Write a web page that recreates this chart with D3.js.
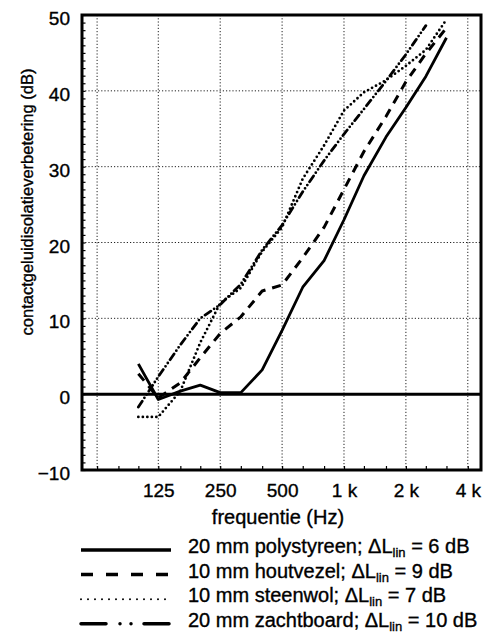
<!DOCTYPE html>
<meta charset="utf-8">
<style>
    body { margin: 0; background: #fff; }
    svg text { font-family: "Liberation Sans", Arial, sans-serif; fill: #000; stroke: #000; stroke-width: 0.35px; }
    .grid line { stroke: #222; stroke-width: 1; stroke-dasharray: 1.2, 2; }
</style>
<body>
<div id="chart"></div>
<script src="https://d3js.org/d3.v7.min.js"></script>
<script>
    // third-octave band centres (Hz)
    var freqs = [100, 125, 160, 200, 250, 315, 400, 500, 630, 800, 1000, 1250, 1600, 2000, 2500, 3150];

    // contactgeluidisolatieverbetering (dB) per material
    var polystyreen = [4.0, -0.7, 0.4, 1.2, 0.2, 0.2, 3.2, 8.4, 14.1, 17.6, 23.0, 28.8, 33.9, 37.8, 41.9, 47.0];
    var houtvezel   = [2.7, -0.5, 1.5, 4.8, 8.0, 10.2, 13.6, 14.4, 18.0, 22.0, 27.0, 32.0, 36.6, 41.2, 44.9, 48.3];
    var steenwol    = [-3.0, -3.0, 0.4, 6.8, 12.0, 14.0, 18.8, 22.0, 28.4, 32.8, 37.4, 39.8, 41.4, 43.3, 45.4, 49.4];
    var zachtboard  = [-1.7, 2.3, 6.5, 10.0, 11.8, 14.5, 19.0, 22.3, 26.7, 30.8, 34.3, 37.6, 41.3, 44.8, 48.6];

    var legendLabels = ["20 mm polystyreen; ", "10 mm houtvezel; ", "10 mm steenwol; ", "20 mm zachtboard; "];
    var legendValues = ["6", "9", "7", "10"];

    var xTicks = [125, 250, 500, 1000, 2000, 4000];
    var xTickLabels = ["125", "250", "500", "1 k", "2 k", "4 k"];
    var xGrid = [63, 125, 250, 500, 1000, 2000, 4000];
    var xMinor = [63, 80, 100, 125, 160, 200, 250, 315, 400, 500, 630, 800, 1000, 1250, 1600, 2000, 2500, 3150, 4000];
    var yTicks = [-10, 0, 10, 20, 30, 40, 50];

    var width = 503, height = 633;
    var plot = { left: 82, right: 481, top: 15, bottom: 470 };

    var svg = d3.select("#chart").append("svg")
        .attr("width", width)
        .attr("height", height);

    var x = d3.scaleLog()
        .domain([53.2, 4637])
        .range([plot.left, plot.right]);

    var y = d3.scaleLinear()
        .domain([-10, 50])
        .range([plot.bottom, plot.top]);

    // grid
    var grid = svg.append("g").attr("class", "grid");
    grid.selectAll(".vg")
        .data(xGrid)
        .enter().append("line")
        .attr("x1", function (d) { return x(d); })
        .attr("x2", function (d) { return x(d); })
        .attr("y1", plot.top)
        .attr("y2", plot.bottom);
    grid.selectAll(".hg")
        .data([10, 20, 30, 40])
        .enter().append("line")
        .attr("x1", plot.left)
        .attr("x2", plot.right)
        .attr("y1", function (d) { return y(d); })
        .attr("y2", function (d) { return y(d); });

    // minor ticks, pointing inwards
    svg.append("g")
        .attr("transform", "translate(0," + plot.bottom + ")")
        .call(d3.axisTop(x).tickValues(xMinor).tickSize(4).tickFormat(""))
        .call(function (g) { g.select(".domain").remove(); })
        .selectAll("line").attr("stroke-width", 1.2);

    svg.append("g")
        .attr("transform", "translate(" + plot.left + ",0)")
        .call(d3.axisRight(y).ticks(60).tickSize(3.5).tickFormat(""))
        .call(function (g) { g.select(".domain").remove(); })
        .selectAll("line").attr("stroke-width", 1.2);

    // tick labels
    svg.append("g")
        .attr("transform", "translate(" + (plot.left - 12) + ",0)")
        .call(d3.axisLeft(y).tickValues(yTicks).tickSize(0).tickPadding(0))
        .call(function (g) { g.select(".domain").remove(); })
        .selectAll("text")
        .attr("font-size", "19px")
        .attr("font-family", "Liberation Sans, Arial, sans-serif")
        .attr("dy", "0.5em");

    svg.append("g")
        .attr("transform", "translate(0," + plot.bottom + ")")
        .call(d3.axisBottom(x).tickValues(xTicks).tickSize(0).tickPadding(0)
            .tickFormat(function (d, i) { return xTickLabels[i]; }))
        .call(function (g) { g.select(".domain").remove(); })
        .selectAll("text")
        .attr("font-size", "19px")
        .attr("font-family", "Liberation Sans, Arial, sans-serif")
        .attr("y", 27)
        .attr("dy", 0);

    // axis titles
    svg.append("text")
        .text("contactgeluidisolatieverbetering (dB)")
        .attr("font-size", "16.5px")
        .attr("text-anchor", "middle")
        .attr("transform", "translate(33,202) rotate(-90)");

    svg.append("text")
        .text("frequentie (Hz)")
        .attr("font-size", "20px")
        .attr("text-anchor", "middle")
        .attr("x", 278)
        .attr("y", 524);

    // series
    var styles = [
        { dash: null, w: 2.8, cap: "butt" },
        { dash: "9,7", w: 3, cap: "butt" },
        { dash: "0,4.5", w: 2.8, cap: "round" },
        { dash: "7,4,0,4,0,4", w: 2.8, cap: "round" }
    ];
    var series = [polystyreen, houtvezel, steenwol, zachtboard];

    var line = d3.line()
        .x(function (d) { return x(d.f); })
        .y(function (d) { return y(d.v); });

    series.forEach(function (vals, i) {
        var pts = vals.map(function (v, j) { return { f: freqs[j], v: v }; });
        svg.append("path")
            .datum(pts)
            .attr("fill", "none")
            .attr("stroke", "#000")
            .attr("stroke-width", styles[i].w)
            .attr("stroke-linecap", styles[i].cap)
            .attr("stroke-linejoin", "round")
            .attr("stroke-dasharray", styles[i].dash)
            .attr("d", line);
    });

    // zero line + frame
    svg.append("line")
        .attr("x1", plot.left).attr("x2", plot.right)
        .attr("y1", y(0)).attr("y2", y(0))
        .attr("stroke", "#000").attr("stroke-width", 3);

    svg.append("rect")
        .attr("x", plot.left).attr("y", plot.top)
        .attr("width", plot.right - plot.left)
        .attr("height", plot.bottom - plot.top)
        .attr("fill", "none")
        .attr("stroke", "#000")
        .attr("stroke-width", 3);

    // legend
    var legendStyles = [
        { dash: null, w: 3.5, cap: "butt" },
        { dash: "12,13", w: 3.5, cap: "butt" },
        { dash: "0,7", w: 2, cap: "round" },
        { dash: "25,14,0,11,0,13", w: 3.5, cap: "round" }
    ];
    var legend = svg.append("g");
    legendLabels.forEach(function (lab, i) {
        var ly = 550 + i * 24.6;
        legend.append("line")
            .attr("x1", 81).attr("x2", 171)
            .attr("y1", ly).attr("y2", ly)
            .attr("stroke", "#000")
            .attr("stroke-width", legendStyles[i].w)
            .attr("stroke-linecap", legendStyles[i].cap)
            .attr("stroke-dasharray", legendStyles[i].dash);
        var t = legend.append("text")
            .attr("x", 188)
            .attr("y", ly + 3)
            .attr("font-size", "20px");
        t.append("tspan").text(lab + "\u0394L");
        t.append("tspan").text("lin").attr("font-size", "13px").attr("dy", 4);
        t.append("tspan").text(" = " + legendValues[i] + " dB").attr("dy", -4);
    });
</script>
</body>
